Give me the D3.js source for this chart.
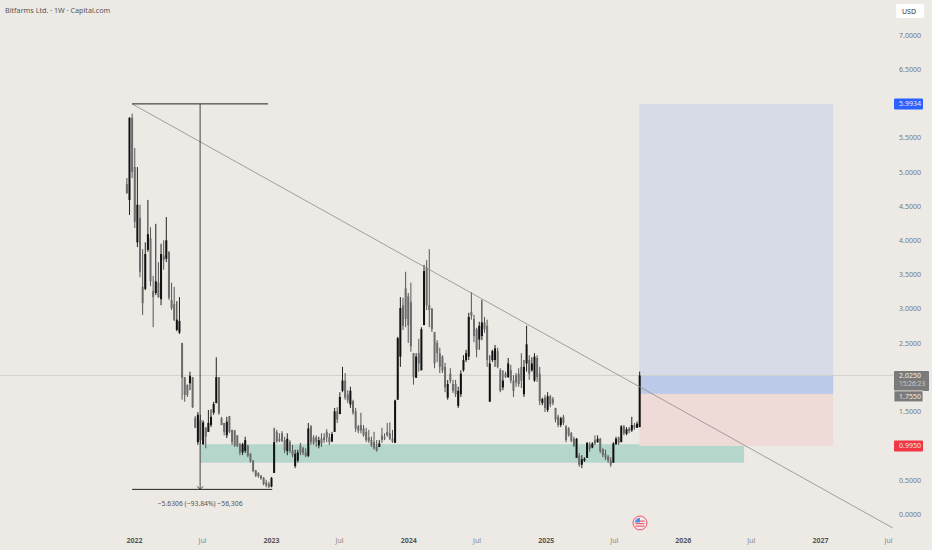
<!DOCTYPE html>
<html>
<head>
<meta charset="utf-8">
<script src="https://cdn.jsdelivr.net/npm/d3@7"></script>
<style>
  html, body { margin: 0; padding: 0; background: #edeae5; overflow: hidden; }
  text { font-family: "Noto Sans", sans-serif; }
  .domain { display: none; }
</style>
</head>
<body>
<div class="container"></div>
<script>
const firstWeek = "2021-12-13";

const opens = [
  4.82,4.59,5.79,5.07,3.97,4.33,3.32,3.29,3.86,4.03,
  3.26,3.23,3.38,3.14,3.78,3.73,3.83,3.13,3.07,2.69,
  2.65,2.50,2.00,1.89,1.91,2.00,1.40,1.05,1.37,1.02,
  1.26,1.20,1.30,1.48,1.62,2.00,1.40,1.33,1.15,
  1.43,1.23,1.22,1.15,1.02,0.90,0.92,1.00,0.88,0.78,
  0.64,0.60,0.56,0.53,0.46,0.44,0.40,0.60,1.20,1.10,
  1.18,1.08,0.92,1.05,0.93,0.70,0.78,1.00,0.96,0.90,
  0.85,1.28,1.12,1.12,1.00,1.10,1.12,1.20,1.12,1.06,
  1.20,1.50,1.46,1.80,1.95,1.75,1.60,1.65,1.50,1.28,
  1.30,1.25,1.20,1.12,1.08,1.05,0.98,0.98,1.15,1.12,
  1.20,1.18,1.10,1.04,1.67,2.30,3.05,3.30,3.18,3.10,
  2.35,1.99,2.35,2.10,2.76,3.60,3.05,3.00,2.66,2.50,
  2.35,2.30,2.15,1.70,2.05,1.90,1.90,1.58,1.75,2.10,
  2.25,2.30,2.95,2.85,2.70,2.55,2.60,2.80,2.75,1.64,
  2.25,2.25,2.38,2.10,1.85,2.05,2.00,2.10,1.95,2.03,
  2.05,2.15,1.75,2.20,2.25,2.10,1.95,2.28,2.05,1.62,
  1.70,1.52,1.72,1.68,1.55,1.42,1.30,1.42,1.28,1.25,
  1.18,1.10,0.82,0.85,0.72,0.78,0.82,1.02,0.97,1.08,
  1.05,1.10,0.95,0.88,0.84,0.78,0.75,1.02,1.12,1.05,
  1.28,1.17,1.25,1.22,1.30,1.26,1.27
];
const highs = [
  4.91,5.80,5.85,5.35,5.07,4.52,3.87,3.97,4.59,4.19,
  3.48,4.24,3.68,3.95,4.00,4.34,3.84,3.38,3.32,3.11,
  3.17,2.50,2.00,1.89,2.08,2.00,1.43,1.49,1.45,1.37,
  1.27,1.52,1.53,1.64,2.29,2.00,1.42,1.33,1.42,
  1.43,1.23,1.23,1.15,1.04,1.04,1.13,1.01,0.89,0.79,
  0.64,0.61,0.57,0.54,0.50,0.47,0.54,1.26,1.23,1.18,
  1.21,1.13,1.18,1.08,1.01,0.94,0.94,1.04,0.98,0.96,
  1.33,1.30,1.15,1.15,1.13,1.18,1.18,1.24,1.18,1.20,
  1.55,1.56,1.78,2.15,2.06,1.81,1.86,1.67,1.55,1.30,
  1.48,1.30,1.26,1.23,1.13,1.20,1.08,1.08,1.26,1.18,
  1.33,1.34,1.23,1.67,2.59,3.17,3.16,3.54,3.23,3.38,
  2.35,2.35,2.56,2.73,3.64,3.71,3.87,3.01,2.66,2.54,
  2.43,2.32,2.21,1.96,2.13,1.96,1.96,1.86,2.10,2.32,
  2.40,2.94,3.24,2.91,2.72,2.81,3.13,2.88,2.84,2.32,
  2.40,2.47,2.43,2.13,2.10,2.08,2.28,2.18,2.03,2.06,
  2.13,2.35,2.25,2.75,2.32,2.29,2.35,2.32,2.15,1.70,
  1.74,1.78,1.74,1.71,1.55,1.45,1.42,1.45,1.30,1.27,
  1.20,1.13,1.11,0.89,0.86,0.83,1.05,1.05,1.05,1.15,
  1.15,1.11,0.96,0.94,0.86,0.83,1.05,1.13,1.13,1.30,
  1.30,1.27,1.27,1.42,1.33,1.35,2.08
];
const lows = [
  4.68,4.37,4.91,4.18,3.90,3.46,2.91,3.27,3.83,3.33,
  2.73,3.20,3.16,3.05,3.57,3.68,3.13,2.98,2.82,2.67,
  2.63,1.67,1.64,1.71,1.81,1.55,1.26,1.01,1.02,1.01,
  0.96,1.20,1.27,1.45,1.62,1.45,1.30,1.15,1.11,
  1.18,1.01,0.98,0.98,0.86,0.86,0.89,0.83,0.75,0.61,
  0.54,0.53,0.50,0.42,0.39,0.38,0.39,0.60,1.04,1.05,
  1.05,0.89,0.86,0.89,0.83,0.67,0.75,0.86,0.86,0.83,
  0.83,1.01,1.01,0.98,0.96,0.98,1.04,1.05,1.01,1.05,
  1.20,1.33,1.46,1.78,1.67,1.62,1.55,1.45,1.20,1.18,
  1.18,1.13,1.05,1.04,0.98,0.94,0.91,0.98,1.04,1.08,
  1.13,1.08,1.04,1.04,1.67,2.15,2.69,2.73,2.50,2.37,
  1.89,1.99,2.08,2.10,2.76,2.98,2.73,2.66,2.13,2.22,
  2.06,2.06,1.78,1.67,1.91,1.77,1.71,1.55,1.71,2.08,
  2.22,2.25,2.84,2.51,2.29,2.40,2.54,2.65,2.15,1.64,
  2.22,2.15,2.13,1.78,1.81,1.99,1.99,1.91,1.71,1.86,
  1.86,1.84,1.71,2.08,1.96,2.08,1.93,1.93,1.59,1.59,
  1.49,1.49,1.56,1.59,1.34,1.27,1.27,1.30,1.05,1.13,
  1.05,0.98,0.82,0.69,0.67,0.76,0.82,0.91,0.96,1.01,
  1.04,0.89,0.83,0.79,0.75,0.69,0.75,1.01,1.01,1.05,
  1.15,1.15,1.18,1.20,1.23,1.26,1.27
];
const closes = [
  4.69,5.79,5.00,4.27,4.52,3.54,3.08,3.80,4.09,3.40,
  3.17,3.40,3.17,3.80,3.71,4.00,3.16,3.01,2.84,2.84,
  2.82,1.99,1.74,1.74,2.02,1.56,1.26,1.45,1.08,1.34,
  1.13,1.33,1.42,1.61,2.00,1.47,1.30,1.20,1.35,
  1.20,1.05,1.00,0.99,0.90,1.02,1.08,0.85,0.77,0.63,
  0.56,0.55,0.52,0.44,0.42,0.40,0.53,1.05,1.06,1.07,
  1.07,0.93,1.10,0.92,0.86,0.88,0.90,0.90,0.89,0.85,
  1.25,1.05,1.03,1.05,1.08,1.03,1.08,1.12,1.05,1.17,
  1.50,1.38,1.71,1.95,1.70,1.66,1.80,1.48,1.25,1.22,
  1.22,1.15,1.08,1.07,1.00,0.96,0.93,1.03,1.08,1.10,
  1.15,1.10,1.06,1.66,2.57,3.01,2.75,2.85,2.76,2.45,
  2.00,2.30,2.20,2.70,3.55,3.05,2.98,2.70,2.20,2.35,
  2.15,2.10,1.85,1.90,1.95,1.80,1.75,1.80,2.05,2.25,
  2.35,2.88,2.90,2.60,2.40,2.75,2.80,2.70,2.25,2.20,
  2.38,2.42,2.15,1.80,1.95,2.00,2.20,1.95,1.80,1.92,
  1.90,1.95,2.15,2.48,2.05,2.20,2.30,2.00,1.65,1.68,
  1.55,1.72,1.60,1.62,1.38,1.30,1.40,1.33,1.08,1.15,
  1.07,1.00,1.10,0.72,0.80,0.81,1.04,0.95,1.03,1.03,
  1.10,0.92,0.86,0.82,0.78,0.72,1.03,1.10,1.04,1.28,
  1.18,1.24,1.21,1.30,1.26,1.32,2.025
];

const priceTicks = [7, 6.5, 5.5, 5, 4.5, 4, 3.5, 3, 2.5, 1.5, 0.5, 0];
const timeTicks = ["2022-01-01","2022-07-01","2023-01-01","2023-07-01","2024-01-01","2024-07-01",
  "2025-01-01","2025-07-01","2026-01-01","2026-07-01","2027-01-01","2027-07-01"];
const timeLabels = ["2022","Jul","2023","Jul","2024","Jul","2025","Jul","2026","Jul","2027","Jul"];

// drawings on the chart
const lastPrice = 2.025;
const entry = 1.755;
const target = 5.9934;
const stop = 0.995;
const positionDates = ["2025-09-07", "2027-02-05"];
const zonePrices = [1.02, 0.75];
const zoneDates = ["2022-06-26", "2026-06-13"];
const trendDates = ["2021-12-27", "2027-07-14"];
const trendPrices = [5.9934, -0.205];
const measurePrices = [5.9934, 0.36];
const measureDates = ["2021-12-27", "2022-06-26", "2022-12-24", "2023-01-04"];
const measureLabel = "−5.6306 (−93.84%) −56,306";

const width = 932;
const height = 550;
const axisX = 896;

const parse = d3.utcParse("%Y-%m-%d");
const x = d3.scaleUtc().domain([parse("2022-01-01"), parse("2027-01-01")]).range([134, 820]);
const y = d3.scaleLinear().domain([0, 7]).range([514, 35]);

const svg = d3.select(".container").append("svg")
  .attr("width", width).attr("height", height)
  .style("display", "block");

svg.append("rect").attr("width", width).attr("height", height).attr("fill", "#edeae5");

// green zone
svg.append("rect")
  .attr("x", x(parse(zoneDates[0])))
  .attr("width", x(parse(zoneDates[1])) - x(parse(zoneDates[0])))
  .attr("y", y(zonePrices[0]))
  .attr("height", y(zonePrices[1]) - y(zonePrices[0]))
  .attr("fill", "#b5d7cb");

// long position
const posX = x(parse(positionDates[0]));
const posW = x(parse(positionDates[1])) - posX;
svg.append("rect").attr("x", posX).attr("width", posW)
  .attr("y", y(target)).attr("height", y(entry) - y(target)).attr("fill", "#d6dbe7");
svg.append("rect").attr("x", posX).attr("width", posW)
  .attr("y", y(lastPrice)).attr("height", y(entry) - y(lastPrice)).attr("fill", "#bdc9e9");
svg.append("rect").attr("x", posX).attr("width", posW)
  .attr("y", y(entry)).attr("height", y(stop) - y(entry)).attr("fill", "#eedbd8");

// last price line
svg.append("line")
  .attr("x1", 0).attr("x2", axisX)
  .attr("y1", y(lastPrice)).attr("y2", y(lastPrice))
  .attr("stroke", "#d4d1cc").attr("stroke-width", 1);

// candles
const candles = opens.map((o, i) => ({
  date: d3.utcDay.offset(parse(firstWeek), i * 7),
  o: o, h: highs[i], l: lows[i], c: closes[i]
}));

svg.selectAll(".wick")
  .data(candles)
  .join("line")
  .attr("class", "wick")
  .attr("x1", d => x(d.date)).attr("x2", d => x(d.date))
  .attr("y1", d => y(d.h)).attr("y2", d => y(d.l))
  .attr("stroke", d => d.c > d.o ? "#222" : "#555")
  .attr("stroke-width", 1);

svg.selectAll(".body")
  .data(candles)
  .join("rect")
  .attr("class", "body")
  .attr("x", d => x(d.date) - 1)
  .attr("width", 2)
  .attr("y", d => y(Math.max(d.o, d.c)))
  .attr("height", d => Math.max(1, Math.abs(y(d.o) - y(d.c))))
  .attr("fill", d => d.c > d.o ? "#111" : "#6c6c6c");

// trend line
svg.append("line")
  .attr("x1", x(parse(trendDates[0]))).attr("x2", x(parse(trendDates[1])))
  .attr("y1", y(trendPrices[0])).attr("y2", y(trendPrices[1]))
  .attr("stroke", "#8f8c88").attr("stroke-width", 0.8);

// measure tool
const mTop = y(measurePrices[0]);
const mBot = y(measurePrices[1]);
const mX = x(parse(measureDates[1]));
svg.append("line").attr("x1", x(parse(measureDates[0]))).attr("x2", x(parse(measureDates[2])))
  .attr("y1", mTop).attr("y2", mTop).attr("stroke", "#222").attr("stroke-width", 1);
svg.append("line").attr("x1", x(parse(measureDates[0]))).attr("x2", x(parse(measureDates[3])))
  .attr("y1", mBot).attr("y2", mBot).attr("stroke", "#222").attr("stroke-width", 1);
svg.append("line").attr("x1", mX).attr("x2", mX)
  .attr("y1", mTop).attr("y2", mBot).attr("stroke", "#333").attr("stroke-width", 0.9);
svg.append("path")
  .attr("d", `M${mX - 3},${mBot - 3}L${mX},${mBot}L${mX + 3},${mBot - 3}`)
  .attr("fill", "none").attr("stroke", "#333").attr("stroke-width", 0.9);
svg.append("text")
  .attr("x", mX).attr("y", mBot + 17)
  .attr("text-anchor", "middle").attr("font-size", 6.8).attr("fill", "#555")
  .text(measureLabel);

// price axis
const yAxis = svg.append("g")
  .attr("transform", `translate(${axisX},0)`)
  .call(d3.axisRight(y).tickValues(priceTicks).tickFormat(d3.format(".4f")).tickSize(0).tickPadding(3));
yAxis.selectAll("text").attr("font-size", 7).attr("fill", "#777");

// time axis
const xAxis = svg.append("g")
  .attr("transform", "translate(0,535)")
  .call(d3.axisBottom(x)
    .tickValues(timeTicks.map(parse))
    .tickFormat((d, i) => timeLabels[i])
    .tickSize(0).tickPadding(3));
xAxis.selectAll("text")
  .attr("font-size", 7)
  .attr("font-weight", (d, i) => timeLabels[i] === "Jul" ? 400 : 700)
  .attr("fill", (d, i) => timeLabels[i] === "Jul" ? "#888" : "#555");

// price tags
function tag(price, label, color) {
  const g = svg.append("g").attr("transform", `translate(894,${y(price)})`);
  g.append("rect").attr("x", 0).attr("y", -5.5).attr("width", 29).attr("height", 11).attr("rx", 1).attr("fill", color);
  g.append("text").attr("x", 5).attr("y", 2.5).attr("font-size", 7).attr("fill", "#e8e8f0").text(label);
}
tag(target, d3.format(".4f")(target), "#2962ff");
tag(stop, d3.format(".4f")(stop), "#f23645");

// last price tag with countdown, entry tag under it
const lastY = y(lastPrice);
svg.append("rect").attr("x", 894).attr("y", lastY - 4.5).attr("width", 35).attr("height", 20).attr("rx", 1).attr("fill", "#7a7a7a");
svg.append("text").attr("x", 899).attr("y", lastY + 2.5).attr("font-size", 7).attr("fill", "#eee").text(d3.format(".4f")(lastPrice));
svg.append("text").attr("x", 899).attr("y", lastY + 11).attr("font-size", 6.6).attr("fill", "#ccc").text("15:26:23");
svg.append("rect").attr("x", 894).attr("y", y(entry) - 3).attr("width", 29).attr("height", 11)
  .attr("fill", "#7a7a7a").attr("stroke", "#f4f2ef").attr("stroke-width", 0.8);
svg.append("text").attr("x", 899).attr("y", y(entry) + 5).attr("font-size", 7).attr("fill", "#eee").text(d3.format(".4f")(entry));

// currency button
svg.append("rect").attr("x", 896).attr("y", 4).attr("width", 28).attr("height", 14).attr("rx", 2).attr("fill", "#fff");
svg.append("text").attr("x", 902).attr("y", 13.5).attr("font-size", 7).attr("fill", "#333").text("USD");

// title
svg.append("text").attr("x", 5).attr("y", 13).attr("font-size", 7.2).attr("fill", "#555")
  .text("Bitfarms Ltd. · 1W · Capital.com");

// US flag event marker
const flag = svg.append("g").attr("transform", "translate(640,523)");
flag.append("circle").attr("r", 7).attr("fill", "#f7dde0").attr("stroke", "#ee5a6e").attr("stroke-width", 1);
flag.append("circle").attr("r", 5).attr("fill", "#f3f1f0");
[-2.5, 0, 2.5].forEach(dy => flag.append("rect").attr("x", -4.5).attr("y", dy).attr("width", 9).attr("height", 1.2).attr("fill", "#ee5a6e"));
flag.append("path").attr("d", "M-5,-0.5A5,5 0 0 1 0,-5V-0.5Z").attr("fill", "#4d8fe0");
</script>
</body>
</html>
